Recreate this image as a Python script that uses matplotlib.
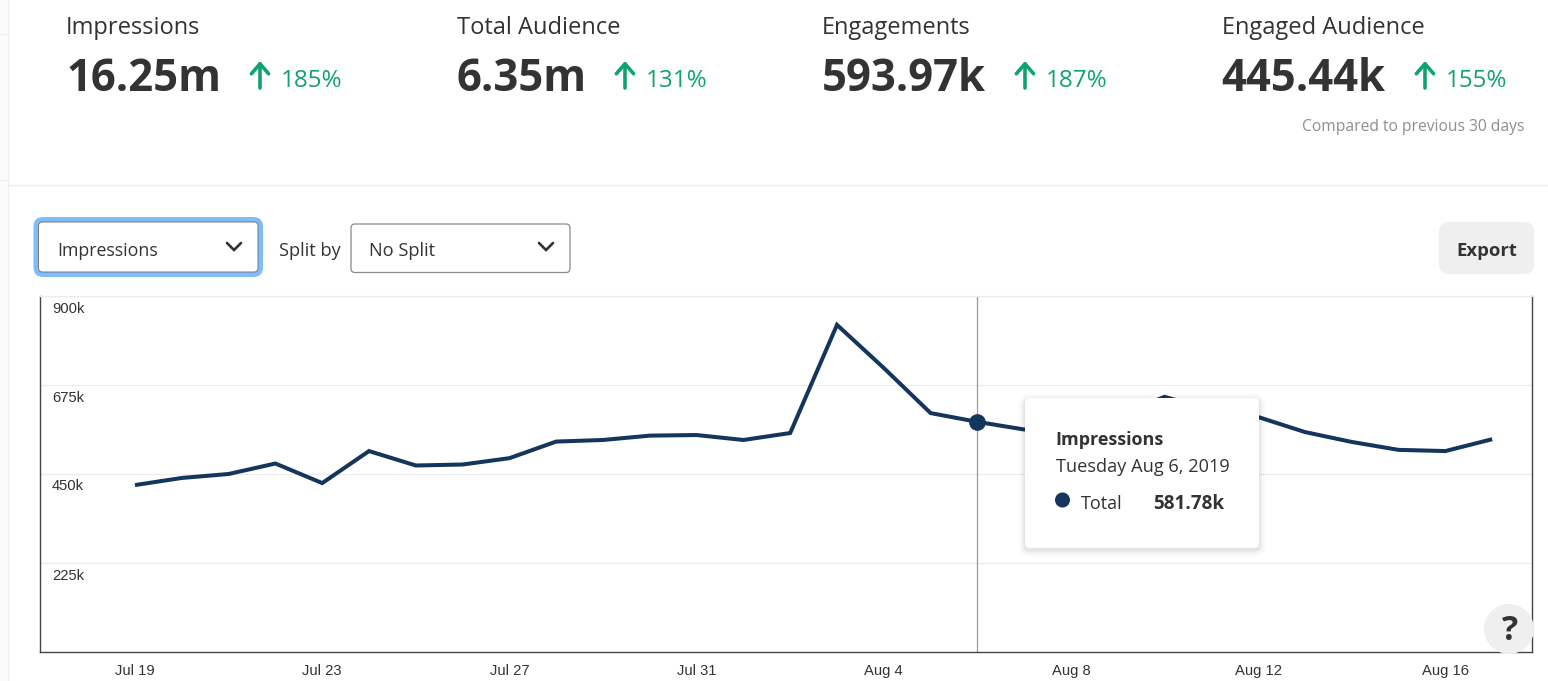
import matplotlib
matplotlib.use("Agg")
import matplotlib.pyplot as plt
import matplotlib.dates as mdates
from matplotlib.patches import FancyBboxPatch, Circle, Rectangle
from matplotlib.transforms import ScaledTranslation
import pandas as pd

W, H = 1548, 681
DPI = 100
UI_FONT = "Open Sans"
TICK_FONT = "Liberation Sans"
NAVY = "#14365c"
GREEN = "#10a36f"
DARK = "#333333"

# daily impressions (k). Aug 8,9,11 are behind the tooltip so rough guesses
dates = pd.date_range("2019-07-19", "2019-08-17")
impressions = [422, 440, 450, 476.5, 427, 508, 471.5, 474, 490, 532, 536, 547, 548.5,
               536, 553.6, 827, 718, 604, 581.78, 562.5, 572, 598, 645, 612, 594,
               556, 531, 511, 508, 538]
y_ticks = [225, 450, 675, 900]
y_labels = ["225k", "450k", "675k", "900k"]
x_ticks = ["2019-07-19", "2019-07-23", "2019-07-27", "2019-07-31",
           "2019-08-04", "2019-08-08", "2019-08-12", "2019-08-16"]
x_labels = ["Jul 19", "Jul 23", "Jul 27", "Jul 31", "Aug 4", "Aug 8", "Aug 12", "Aug 16"]
hover_date = "2019-08-06"
hover_value = 581.78

kpi_names = ["Impressions", "Total Audience", "Engagements", "Engaged Audience"]
kpi_values = ["16.25m", "6.35m", "593.97k", "445.44k"]
kpi_changes = ["185%", "131%", "187%", "155%"]
kpi_x = [66, 457, 822, 1222]
kpi_value_x = [66, 456, 822, 1221]
kpi_arrow_x = [260, 625, 1025, 1425]
kpi_change_x = [281, 646, 1046, 1446]


def fs(px):
    return px * 72.0 / DPI


fig = plt.figure(figsize=(W / DPI, H / DPI), dpi=DPI, facecolor="white")

# chart axes, pixel box 40..1532 x 296..652
ax = fig.add_axes([40 / W, 1 - 652 / H, (1532 - 40) / W, (652 - 296) / H])
day = mdates.date2num(dates)
ax.set_xlim(day[0] - 95 / 46.8, day[0] + 1397 / 46.8)
ax.set_ylim(0, 900)
ax.plot(day, impressions, color=NAVY, lw=2.9, solid_joinstyle="miter", solid_capstyle="butt", zorder=3)
hx = mdates.date2num(pd.Timestamp(hover_date))
ax.axvline(hx, color="#9a9a9a", lw=0.9, zorder=2)
ax.plot([hx], [hover_value], "o", color=NAVY, ms=11, zorder=4)

ax.set_yticks(y_ticks)
ax.set_yticklabels(y_labels)
ax.set_xticks(mdates.date2num(pd.to_datetime(x_ticks)))
ax.set_xticklabels(x_labels)
ax.grid(axis="y", color="#ececec", lw=0.9)
ax.set_axisbelow(True)
ax.tick_params(axis="x", length=0, pad=8.5, labelsize=fs(14.8), labelcolor=DARK)
ax.tick_params(axis="y", length=0, pad=-8.6, labelsize=fs(14.8), labelcolor=DARK)
for t in ax.get_xticklabels():
    t.set_fontfamily(TICK_FONT)
shift = ScaledTranslation(0, -5.5 / DPI, fig.dpi_scale_trans)
for t in ax.get_yticklabels():
    t.set_fontfamily(TICK_FONT)
    t.set_ha("left")
    t.set_va("top")
    t.set_transform(t.get_transform() + shift)
for side in ["left", "right", "bottom"]:
    ax.spines[side].set_color("#444444")
    ax.spines[side].set_linewidth(1.0)
ax.spines["top"].set_color("#ececec")
ax.spines["top"].set_linewidth(0.9)

# page furniture on a transparent overlay in pixel coords
ui = fig.add_axes([0, 0, 1, 1], zorder=5)
ui.set_xlim(0, W)
ui.set_ylim(H, 0)
ui.axis("off")
ui.patch.set_alpha(0)

ui.add_patch(Rectangle((0, 0), 8, H, fc="#fbfbfb", ec="none"))
ui.plot([8, 8], [0, H], color="#f0f0f0", lw=0.8)
ui.plot([8, W], [185, 185], color="#ececec", lw=1)
ui.plot([0, 8], [34, 34], color="#f0f0f0", lw=0.8)
ui.plot([0, 8], [180, 180], color="#f0f0f0", lw=0.8)

for i in range(4):
    ui.text(kpi_x[i], 28, kpi_names[i], family=UI_FONT, fontsize=fs(23.6), color=DARK, va="center", ha="left")
    ui.text(kpi_value_x[i], 91, kpi_values[i], family=UI_FONT, fontsize=fs(43.7), color=DARK,
            weight="bold", va="baseline", ha="left")
    ui.text(kpi_change_x[i], 81, kpi_changes[i], family=UI_FONT, fontsize=fs(24.2), color=GREEN,
            va="center", ha="left")
    ui.annotate("", xy=(kpi_arrow_x[i], 61), xytext=(kpi_arrow_x[i], 88),
                arrowprops=dict(arrowstyle="->,head_length=0.72,head_width=0.62", color=GREEN, lw=2.6,
                                shrinkA=0, shrinkB=0))
ui.text(1525, 127, "Compared to previous 30 days", family=UI_FONT, fontsize=fs(15.6), color="#8f8f8f",
        va="center", ha="right")


def chevron(x, y):
    ui.plot([x - 7, x, x + 7], [y - 4, y + 3, y - 4], color="#333333", lw=1.9,
            solid_capstyle="round", solid_joinstyle="miter")


# dropdowns
ui.add_patch(FancyBboxPatch((36, 219.5), 224.5, 55, boxstyle="round,pad=0,rounding_size=7",
                            fc="white", ec="#7fbcfb", lw=3.6))
ui.add_patch(FancyBboxPatch((38.5, 222), 219.5, 50, boxstyle="round,pad=0,rounding_size=4",
                            fc="white", ec="#777777", lw=0.7))
ui.text(57, 251, "Impressions", family=UI_FONT, fontsize=fs(17.8), color=DARK, va="center")
chevron(234, 247)
ui.text(279, 251, "Split by", family=UI_FONT, fontsize=fs(18.3), color=DARK, va="center")
ui.add_patch(FancyBboxPatch((351, 224), 219, 48.5, boxstyle="round,pad=0,rounding_size=4",
                            fc="white", ec="#8a8a8a", lw=0.9))
ui.text(369, 251, "No Split", family=UI_FONT, fontsize=fs(18.3), color=DARK, va="center")
chevron(546, 247)

# export button
ui.add_patch(FancyBboxPatch((1439, 222), 95, 52, boxstyle="round,pad=0,rounding_size=10",
                            fc="#efefef", ec="none"))
ui.text(1487, 251, "Export", family=UI_FONT, fontsize=fs(18.5), color=DARK, weight="bold",
        va="center", ha="center")

# tooltip, shadow faked with a few stacked translucent boxes
for grow, a in [(7, 0.012), (5, 0.02), (3, 0.03), (1.5, 0.04)]:
    ui.add_patch(FancyBboxPatch((1025 - grow, 398 - grow + 2), 234 + 2 * grow, 150 + 2 * grow,
                                boxstyle="round,pad=0,rounding_size=%g" % (5 + grow),
                                fc="black", ec="none", alpha=a))
ui.add_patch(FancyBboxPatch((1025, 398), 234, 150, boxstyle="round,pad=0,rounding_size=5",
                            fc="white", ec="none"))
ui.text(1055, 440, "Impressions", family=UI_FONT, fontsize=fs(18), color=DARK, weight="bold", va="center")
ui.text(1056, 467, "Tuesday Aug 6, 2019", family=UI_FONT, fontsize=fs(18.2), color=DARK, va="center")
ui.add_patch(Circle((1062.5, 500), 7.5, fc=NAVY, ec="none"))
ui.text(1081, 504, "Total", family=UI_FONT, fontsize=fs(18), color=DARK, va="center")
ui.text(1224, 504, "581.78k", family=UI_FONT, fontsize=fs(18.9), color=DARK, weight="bold", va="center", ha="right")

# help button
ui.add_patch(Circle((1509, 629), 25, fc="#efefef", ec="none"))
ui.text(1510, 631, "?", family=UI_FONT, fontsize=fs(34), color=DARK, weight="bold", va="center", ha="center")

fig.savefig("out.png", dpi=DPI, facecolor="white")
